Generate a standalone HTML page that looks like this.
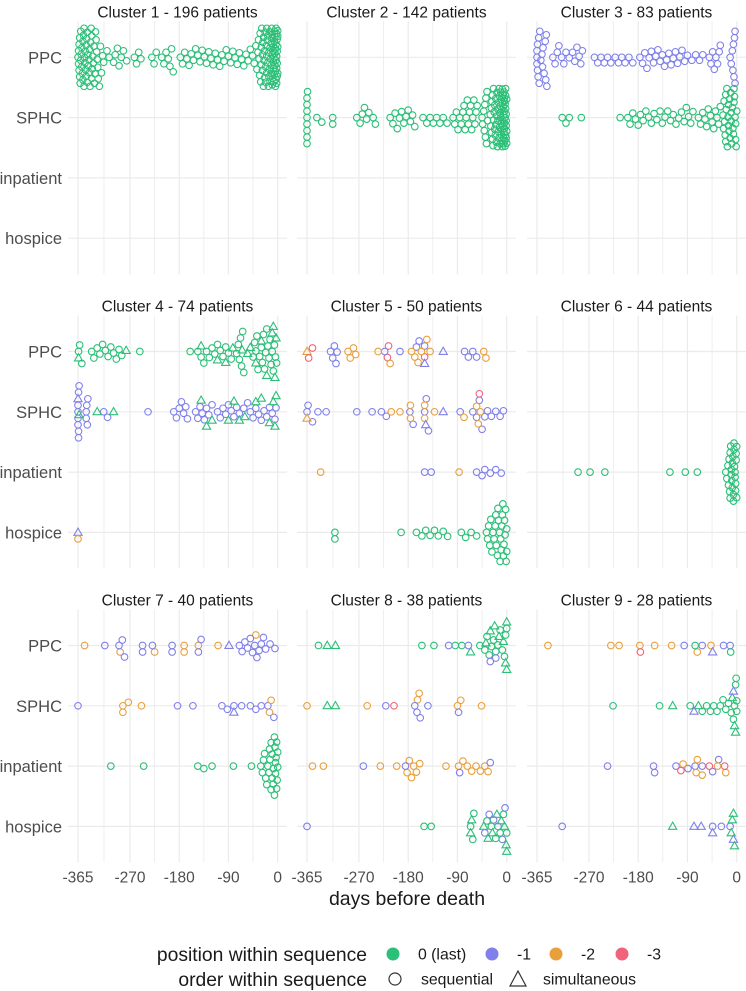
<!DOCTYPE html>
<html><head><meta charset="utf-8"><style>
html,body{margin:0;padding:0;background:#fff;}
svg{display:block;font-family:"Liberation Sans",Arial,sans-serif;}
</style></head><body>
<svg id="chart" width="746" height="991" viewBox="0 0 746 991" xmlns="http://www.w3.org/2000/svg"></svg>
<script>
// ---------- data ----------
const clusterTitles = ["Cluster 1 - 196 patients","Cluster 2 - 142 patients","Cluster 3 - 83 patients","Cluster 4 - 74 patients","Cluster 5 - 50 patients","Cluster 6 - 44 patients","Cluster 7 - 40 patients","Cluster 8 - 38 patients","Cluster 9 - 28 patients"];
const categories = ["PPC","SPHC","inpatient","hospice"];
const xTicks = [-365,-270,-180,-90,0];
const xMinorTicks = [-317.5,-225,-135,-45];
const positionLabels = ["0 (last)","-1","-2","-3"];
const positionColors = ["#2cbf78","#8080ea","#e9a03b","#f0637a"];
// groups: [category, position index (0..3), order 'o'=sequential 't'=simultaneous, days[]]
const cluster1 = [
 ["PPC",0,"o",[-365,-364,-364,-363,-363,-362,-362,-361,-360,-360,-359,-358,-358,-357,-356,-356,-355,-354,-354,-353,-352,-352,-351,-350,-350,-349,-348,-348,-347,-346,-345,-344,-344,-343,-342,-341,-340,-340,-339,-338,-337,-336,-335,-334,-333,-332,-331,-330,-329,-328,-326,-324,-322,-320,-318,
 -312,-308,-300,-297,-293,-290,-286,-282,-276,-262,-258,-254,-250,-230,-226,-222,-212,-208,-204,-200,-197,-194,-191,-178,-174,-170,-166,-162,-158,-154,-150,-146,-142,-138,-134,-130,-126,-122,-118,-114,-110,-106,-102,-98,-94,-90,-86,-82,-78,-74,-70,-66,-62,-58,-54,-50,-46,-43,-40,
 -38,-36,-35,-34,-33,-32,-31,-30,-30,-29,-28,-28,-27,-26,-26,-25,-24,-24,-23,-22,-22,-21,-20,-20,-19,-18,-18,-17,-16,-16,-15,-14,-14,-13,-12,-12,-11,-11,-10,-10,-9,-9,-8,-8,-7,-7,-6,-6,-5,-5,-5,-4,-4,-4,-3,-3,-3,-2,-2,-2,-1,-1,-1,-1,0,0,0,0,-2,-3,-6,-8,-10,-12,-15,-20]]
];
const cluster2 = [
 ["SPHC",0,"o",[-365,-365,-365,-365,-365,-365,-365,-365,-364,-347,-338,-318,-318,-274,-268,-264,-260,-256,-252,-244,-240,-213,-208,-204,-200,-196,-192,-188,-184,-180,-176,-172,-168,-153,-146,-140,-134,-128,-122,-116,-109,-98,-95,-92,-89,-86,-83,-80,-78,-76,-74,-72,-70,-68,-66,-64,-62,-60,-58,-56,-54,-45,-44,-42,-41,-40,-39,-38,-37,-36,-35,
 -30,-29,-28,-27,-26,-25,-24,-23,-22,-21,-20,-19,-18,-17,-16,-15,-14,-13,-12,-11,-10,-9,-8,-7,-6,-5,-4,-3,-2,-1,0,-28,-26,-24,-22,-20,-18,-16,-14,-12,-10,-8,-6,-4,-2,0,-15,-13,-11,-9,-7,-5,-3,-1,-12,-10,-8,-6,-4,-2,-9,-7,-5,-3,-1,-6,-4,-2,0,-3,-1]]
];
const cluster3 = [
 ["PPC",1,"o",[-365,-365,-365,-364,-364,-363,-362,-361,-360,-358,-356,-355,-354,-352,-350,-349,-348,-347,-336,-332,-328,-325,-320,-316,-312,-306,-300,-296,-292,-288,-285,-282,-260,-254,-248,-242,-236,-230,-222,-216,-210,-204,-197,-190,-177,-172,-168,-164,-160,-156,-152,-148,-144,-140,-136,-132,-128,-124,-120,-116,-112,-108,-104,-100,-95,-90,-82,-75,-68,-62,-50,-47,-44,-41,-38,-35,-32,-30,-12,-10,-8,-7,-6,-5,-4,-3,-3]],
 ["SPHC",0,"o",[-319,-312,-306,-284,-213,-199,-195,-190,-185,-180,-176,-171,-166,-161,-156,-151,-146,-140,-136,-131,-126,-121,-116,-111,-106,-101,-96,-92,-88,-84,-80,-70,-66,-62,-58,-55,-52,-48,-45,-42,-39,-36,-33,-30,-25,-24,-23,-22,-21,-20,-19,-18,-17,-16,-15,-14,-13,-12,-11,-10,-9,-8,-7,-6,-5,-4,-3,-2,-1,0,-20,-15,-10,-5,-2]]
];
const cluster4 = [
 ["PPC",0,"o",[-364,-362,-358,-340,-336,-330,-325,-320,-315,-310,-305,-300,-295,-290,-285,-252,-160,-146,-140,-135,-130,-125,-120,-115,-110,-105,-100,-95,-90,-85,-75,-72,-70,-68,-66,-64,-62,-45,-42,-40,-38,-36,-33,-30,-28,-26,-24,-22,-20,-18,-16,-14,-12,-10,-8,-6,-4,-2]],
 ["PPC",0,"t",[-364,-277,-140,-110,-95,-82,-65,-55,-50,-40,-30,-20,-10,-8,-5,-3]],
 ["SPHC",1,"o",[-365,-365,-365,-365,-364,-364,-364,-363,-350,-350,-349,-348,-347,-318,-311,-237,-190,-185,-180,-176,-172,-168,-165,-150,-146,-142,-138,-134,-130,-126,-120,-110,-105,-100,-95,-90,-85,-80,-75,-70,-62,-55,-50,-45,-40,-35,-30,-25,-20,-15,-10,-5,-3]],
 ["SPHC",1,"t",[-365]],
 ["SPHC",0,"t",[-363,-330,-300,-140,-130,-120,-90,-80,-70,-60,-40,-30,-15,-8,-5,-3]],
 ["hospice",1,"t",[-365]],
 ["hospice",2,"o",[-365]]
];
const cluster5 = [
 ["PPC",2,"t",[-365]],
 ["PPC",3,"o",[-362,-355,-218,-216,-150]],
 ["PPC",1,"o",[-322,-318,-315,-312,-310,-223,-195,-165,-160,-150,-77,-70,-62,-55]],
 ["PPC",2,"o",[-290,-286,-280,-276,-235,-213,-174,-168,-162,-156,-146,-140,-42,-38]],
 ["PPC",1,"t",[-150,-116]],
 ["SPHC",1,"o",[-365,-363,-355,-345,-330,-274,-246,-229,-220,-177,-171,-150,-147,-143,-85,-62,-55,-50,-45,-40,-35,-28,-20,-12,-6]],
 ["SPHC",2,"t",[-365]],
 ["SPHC",2,"o",[-211,-195,-176,-176,-150,-150,-132,-78,-55,-52,-48]],
 ["SPHC",3,"o",[-50]],
 ["SPHC",1,"t",[-148,-116]],
 ["inpatient",2,"o",[-340,-87]],
 ["inpatient",1,"o",[-150,-138,-55,-45,-40,-30,-20,-10]],
 ["hospice",0,"o",[-314,-314,-193,-165,-155,-148,-140,-132,-125,-116,-108,-83,-75,-65,-55,-37,-35,-33,-31,-29,-27,-25,-23,-21,-19,-17,-15,-13,-11,-9,-7,-5,-3,-1,0,-20,-16,-12,-8,-4,-2,-10,-6,0]]
];
const cluster6 = [
 ["inpatient",0,"o",[-290,-268,-241,-122,-94,-72,-20,-18,-16,-15,-14,-13,-12,-11,-10,-9,-8,-7,-6,-5,-4,-3,-2,-1,0,-12,-8,-5,-3,-1,-10,-6,-2,0]]
];
const cluster7 = [
 ["PPC",2,"o",[-353,-288,-225,-171,-171,-145,-109,-40]],
 ["PPC",1,"o",[-316,-290,-284,-280,-247,-247,-229,-193,-193,-145,-140,-70,-65,-60,-55,-50,-46,-42,-38,-34,-30,-26,-22,-14,-5]],
 ["PPC",1,"t",[-89]],
 ["SPHC",1,"o",[-365,-183,-155,-102,-92,-80,-66,-50,-40,-30,-18,-7]],
 ["SPHC",1,"t",[-80]],
 ["SPHC",2,"o",[-283,-283,-273,-249,-15,-12]],
 ["inpatient",0,"o",[-305,-245,-146,-135,-120,-81,-48,-31,-28,-26,-24,-22,-20,-18,-16,-14,-12,-10,-8,-6,-4,-2,0,-15,-10,-6,-3,-1,-8,-4,0,-2,-5,-12]]
];
const cluster8 = [
 ["PPC",0,"o",[-344,-155,-133,-94,-82,-49,-40,-36,-32,-28,-24,-20,-16,-12,-8,-4,-2,0]],
 ["PPC",0,"t",[-328,-313,-66,-38,-30,-22,-14,-6,-2,0,0]],
 ["PPC",1,"o",[-106,-70,-30,-20]],
 ["SPHC",2,"o",[-365,-255,-163,-160,-90,-84,-46]],
 ["SPHC",0,"t",[-328,-313]],
 ["SPHC",1,"o",[-221,-168,-164,-158,-144,-88]],
 ["SPHC",3,"o",[-206]],
 ["inpatient",2,"o",[-355,-335,-231,-201,-182,-178,-174,-170,-165,-159,-111,-88,-80,-72,-64,-56,-48,-40,-34]],
 ["inpatient",1,"o",[-262,-185,-86,-30]],
 ["hospice",1,"o",[-365,-40,-32,-24,-16,-8,-3]],
 ["hospice",0,"o",[-151,-138,-66,-62,-60,-36,-28,-20,-12,-6,0]],
 ["hospice",0,"t",[-66,-64,-42,-34,-26,-18,-10,-4,-1,0]]
];
const cluster9 = [
 ["PPC",2,"o",[-345,-230,-215,-177,-150,-119,-72,-47]],
 ["PPC",3,"o",[-176]],
 ["PPC",1,"o",[-96,-63,-24,-12]],
 ["PPC",1,"t",[-44]],
 ["PPC",0,"o",[-76,-11]],
 ["SPHC",0,"o",[-226,-141,-85,-63,-55,-48,-42,-36,-30,-25,-20,-15,-10,-6,-4,-2,-1,0,0]],
 ["SPHC",0,"t",[-117,-70,-8,-4,-2]],
 ["SPHC",1,"t",[-78,-6]],
 ["inpatient",1,"o",[-236,-152,-150,-111,-89,-76,-63,-44,-33]],
 ["inpatient",2,"o",[-98,-74,-72,-63,-35,-20]],
 ["inpatient",3,"o",[-102,-50,-22]],
 ["hospice",1,"o",[-319,-44,-28,-12]],
 ["hospice",1,"t",[-78,-65,-44,-6]],
 ["hospice",0,"t",[-117,-10,-8,-6,-4]]
];
const clusters = [cluster1,cluster2,cluster3,cluster4,cluster5,cluster6,cluster7,cluster8,cluster9];

// ---------- layout ----------
const NS = "http://www.w3.org/2000/svg";
const svg = document.getElementById("chart");
const colX0 = [78,307,537];
const colSpan = 199.7;
const rowY0 = [57.3,351.5,645.5];
const catStep = 60.3;
const panelW = 219;
function xScale(col, d){ return colX0[col] + (d + 365) * colSpan / 365; }
function yScale(row, cat){ return rowY0[row] + categories.indexOf(cat) * catStep; }
function mk(tag, attrs, parent){ const e = document.createElementNS(NS, tag); for (const k in attrs) e.setAttribute(k, attrs[k]); (parent||svg).appendChild(e); return e; }

function swarm(xs){
  const D = 6.4, MAX = 29, placed = [];
  const idx = xs.map((x,i)=>i).sort((a,b)=>xs[a]-xs[b]);
  const offs = new Array(xs.length).fill(0);
  const cands = [0]; for (let k=0.5;k<=MAX;k+=0.5){ cands.push(k); cands.push(-k); }
  for (const i of idx){
    const x = xs[i]; let chosen = null, best = -1, bestOff = 0;
    for (const c of cands){
      let minD = Infinity;
      for (const p of placed){ const dx = p.x - x; if (Math.abs(dx) >= D) continue; const dd = Math.hypot(dx, p.o - c); if (dd < minD) minD = dd; }
      if (minD >= D){ chosen = c; break; }
      if (minD > best){ best = minD; bestOff = c; }
    }
    if (chosen === null) chosen = bestOff;
    offs[i] = chosen; placed.push({x:x,o:chosen});
  }
  return offs;
}

// ---------- panels ----------
for (let p=0;p<9;p++){
  const col = p%3, row = Math.floor(p/3);
  const left = colX0[col]-10, top = rowY0[row]-36, bottom = rowY0[row]+3*catStep+36;
  const g = mk("g",{});
  
  
  xMinorTicks.forEach(t=>{ mk("line",{x1:xScale(col,t),x2:xScale(col,t),y1:top,y2:bottom,stroke:"#ebebeb","stroke-width":0.8},g); });
  xTicks.forEach(t=>{ const l = mk("line",{x1:xScale(col,t),x2:xScale(col,t),y1:top,y2:bottom,stroke:"#ebebeb","stroke-width":1.2},g);
      });
  categories.forEach(c=>{ const l = mk("line",{x1:left,x2:left+panelW,y1:yScale(row,c),y2:yScale(row,c),stroke:"#ebebeb","stroke-width":1.2},g);
      });
  const title = mk("text",{x:left+panelW/2,y:rowY0[row]-40,"text-anchor":"middle","font-size":"15.5","fill":"#1a1a1a"},g);
  title.textContent = clusterTitles[p];
  
  
  if (col===0){
    categories.forEach(c=>{ const t = mk("text",{x:62,y:yScale(row,c)+6,"text-anchor":"end","font-size":"16.5","fill":"#4d4d4d"},g);
      t.textContent = c;   });
  }
  if (row===2){
    xTicks.forEach(v=>{ const t = mk("text",{x:xScale(col,v),y:882.5,"text-anchor":"middle","font-size":"15.5","fill":"#4d4d4d"},g);
      t.textContent = String(v);   });
  }
  categories.forEach(cat=>{
    const pts = [];
    clusters[p].forEach(gr=>{ if (gr[0]!==cat) return; gr[3].forEach(d=>pts.push({d:d,pos:gr[1],ord:gr[2]})); });
    if (!pts.length) return;
    const xs = pts.map(q=>xScale(col,q.d));
    const offs = swarm(xs);
    const yc = yScale(row,cat);
    pts.forEach((q,i)=>{
      const x = xs[i], y = yc + offs[i], col2 = positionColors[q.pos];
      let el;
      if (q.ord==="o") el = mk("circle",{cx:x.toFixed(2),cy:y.toFixed(2),r:3.3,fill:"none",stroke:col2,"stroke-width":1.1},g);
      else el = mk("polygon",{points:`${x.toFixed(2)},${(y-4.3).toFixed(2)} ${(x-4.1).toFixed(2)},${(y+2.9).toFixed(2)} ${(x+4.1).toFixed(2)},${(y+2.9).toFixed(2)}`,fill:"none",stroke:col2,"stroke-width":1.1},g);
      
      
    });
  });
}

const at = mk("text",{x:407,y:905,"text-anchor":"middle","font-size":"19.5","fill":"#1a1a1a"});
at.textContent = "days before death";



const lg = mk("g",{});


const lt1 = mk("text",{x:367,y:961,"text-anchor":"end","font-size":"19.3","fill":"#1a1a1a"},lg);
lt1.textContent = "position within sequence";


const legDotX = [393,492,556,622];
positionLabels.forEach((lab,i)=>{
  const c = mk("circle",{cx:legDotX[i],cy:954,r:6.5,fill:positionColors[i]},lg);
  
  
  const t = mk("text",{x:legDotX[i]+25,y:959.5,"font-size":"15.8","fill":"#1a1a1a"},lg);
  t.textContent = lab;
  
  
});
const lt2 = mk("text",{x:367,y:986,"text-anchor":"end","font-size":"19.3","fill":"#1a1a1a"},lg);
lt2.textContent = "order within sequence";


const oc = mk("circle",{cx:395,cy:979,r:6,fill:"none",stroke:"#333","stroke-width":1.2},lg);


const ot = mk("text",{x:421,y:984.5,"font-size":"15.8","fill":"#1a1a1a"},lg);
ot.textContent = "sequential";


const tri = mk("polygon",{points:"518,971 510,986 526,986",fill:"none",stroke:"#333","stroke-width":1.2},lg);


const tt = mk("text",{x:543,y:984.5,"font-size":"15.8","fill":"#1a1a1a"},lg);
tt.textContent = "simultaneous";


</script>
</body></html>
